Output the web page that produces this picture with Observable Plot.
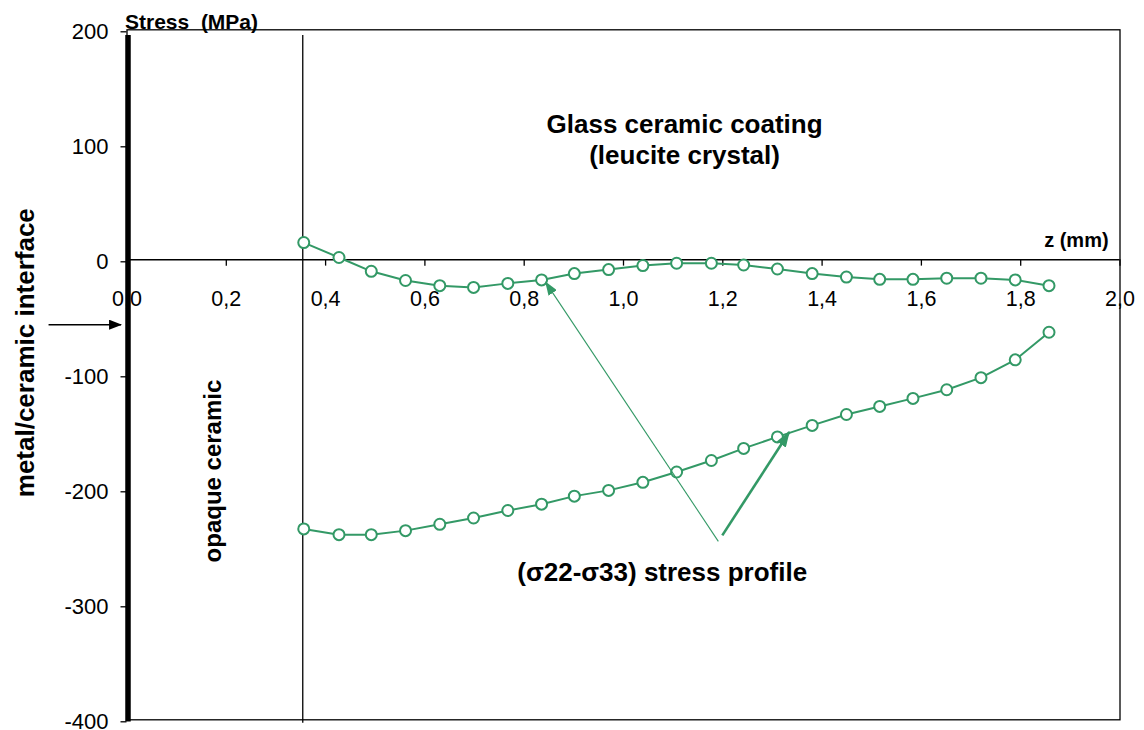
<!DOCTYPE html>
<html><head><meta charset="utf-8">
<script src="https://cdn.jsdelivr.net/npm/d3@7"></script>
<script src="https://cdn.jsdelivr.net/npm/@observablehq/plot@0.6"></script>
<style>body{margin:0;background:#fff} svg{display:block}</style>
</head><body><div id="chart"></div>
<script>
// z positions (mm) of the measurement points
const zMM = [0.356,0.427,0.492,0.561,0.630,0.698,0.767,0.835,0.901,0.970,1.039,1.107,1.177,1.242,1.310,1.380,1.449,1.516,1.583,1.651,1.720,1.789,1.857];
// upper curve (glass ceramic coating) stress, MPa
const coatingStress = [15,2,-10,-18,-22.5,-24,-20.5,-17.5,-12,-8.5,-5,-3,-3,-4.5,-8,-12,-15,-17,-17,-16,-16,-17.5,-22.5];
// lower curve stress, MPa
const profileStress = [-234,-239,-239,-235.5,-230,-224.5,-218,-212.5,-205.5,-200.5,-193.5,-184.5,-174.5,-164,-154,-144,-134.5,-127.5,-120.5,-113,-102.5,-87,-63];
const xTicks = [0,0.2,0.4,0.6,0.8,1.0,1.2,1.4,1.6,1.8,2.0];
const yTicks = [200,100,0,-100,-200,-300,-400];
const interfaceZ = 0.354;

const GREEN = "#339966";
const upper = zMM.map((z,i)=>({z, s: coatingStress[i]}));
const lower = zMM.map((z,i)=>({z, s: profileStress[i]}));

const thinArrow = [{x1:1.191, y1:-244.8, x2:0.843, y2:-19.4}];
const thickArrow = [{x1:1.199, y1:-239.6, x2:1.334, y2:-149.7}];
const blackArrow = [{x1:-0.158, y1:-56.4, x2:-0.012, y2:-56.4}];

const bold = {fontWeight:"bold", fill:"black"};

const plot = Plot.plot({
  width:1144, height:730,
  marginLeft:126.5, marginRight:24.5, marginTop:29.3, marginBottom:10.7,
  style:{fontFamily:"'Liberation Sans', Arial, sans-serif", background:"white", color:"black", overflow:"visible"},
  x:{domain:[0,2], axis:null},
  y:{domain:[-400,200]},
  marks:[
    Plot.frame({stroke:"black", strokeWidth:1.3}),
    Plot.axisY(yTicks, {tickSize:6, tickPadding:12.5, fontSize:22, tickFormat:d=>String(d), label:null, dy:2, strokeWidth:1.3}),
    Plot.ruleY([0], {stroke:"black", strokeWidth:1.5}),
    Plot.ruleX(xTicks, {x:d=>d, y1:0, y2:-5.5, stroke:"black", strokeWidth:1.3}),
    Plot.text(xTicks, {x:d=>d, y:0, text:d=>d.toFixed(1).replace(".", ","), dy:39, fontSize:21.5, fill:"black"}),
    Plot.ruleX([0], {y1:195, y2:-402, stroke:"black", strokeWidth:5.5, dx:1}),
    Plot.ruleX([interfaceZ], {y1:195, y2:-403, stroke:"black", strokeWidth:1.3}),
    Plot.line(upper, {x:"z", y:"s", stroke:GREEN, strokeWidth:2}),
    Plot.line(lower, {x:"z", y:"s", stroke:GREEN, strokeWidth:2}),
    Plot.dot(upper, {x:"z", y:"s", r:5.5, stroke:GREEN, strokeWidth:2, fill:"white"}),
    Plot.dot(lower, {x:"z", y:"s", r:5.5, stroke:GREEN, strokeWidth:2, fill:"white"}),
    Plot.link(thinArrow, {x1:"x1", y1:"y1", x2:"x2", y2:"y2", stroke:GREEN, strokeWidth:1.1}),
    Plot.link(thickArrow, {x1:"x1", y1:"y1", x2:"x2", y2:"y2", stroke:GREEN, strokeWidth:2.6}),
    Plot.link(blackArrow, {x1:"x1", y1:"y1", x2:"x2", y2:"y2", stroke:"black", strokeWidth:1.5}),
    Plot.text(["Stress\u00a0 (MPa)"], {x:0, y:206.8, text:d=>d, textAnchor:"start", dx:-2, fontSize:21, ...bold}),
    Plot.text(["z (mm)"], {x:1.977, y:16.3, text:d=>d, textAnchor:"end", fontSize:20, ...bold}),
    Plot.text(["Glass ceramic coating"], {x:1.123, y:117.6, text:d=>d, fontSize:26, ...bold}),
    Plot.text(["(leucite crystal)"], {x:1.123, y:90.8, text:d=>d, fontSize:26, ...bold}),
    Plot.text(["(σ22-σ33) stress profile"], {x:1.078, y:-271.8, text:d=>d, fontSize:26, ...bold}),
    Plot.text(["metal/ceramic interface"], {x:-0.204, y:-80.8, text:d=>d, rotate:-90, fontSize:26, ...bold}),
    Plot.text(["opaque ceramic"], {x:0.174, y:-183.7, text:d=>d, rotate:-90, fontSize:24, ...bold})
  ]
});

// filled arrowheads
const svg = d3.select(plot);
const defs = svg.insert("defs", ":first-child");
function marker(id, color, len, wid){
  defs.append("marker").attr("id", id).attr("markerUnits","userSpaceOnUse")
    .attr("markerWidth", len).attr("markerHeight", wid)
    .attr("viewBox", `0 0 ${len} ${wid}`).attr("refX", len-1).attr("refY", wid/2)
    .attr("orient","auto")
    .append("path").attr("d", `M0,0L${len},${wid/2}L0,${wid}Z`).attr("fill", color);
}
marker("ah-thin", GREEN, 14, 10);
marker("ah-thick", GREEN, 16, 11);
marker("ah-black", "black", 13, 10);
const links = svg.selectAll("g[aria-label='link']").nodes();
const ids = ["ah-thin","ah-thick","ah-black"];
links.forEach((g,i)=>{ d3.select(g).selectAll("path").attr("marker-end", `url(#${ids[i]})`); });

document.getElementById("chart").appendChild(plot);
</script>
</body></html>
